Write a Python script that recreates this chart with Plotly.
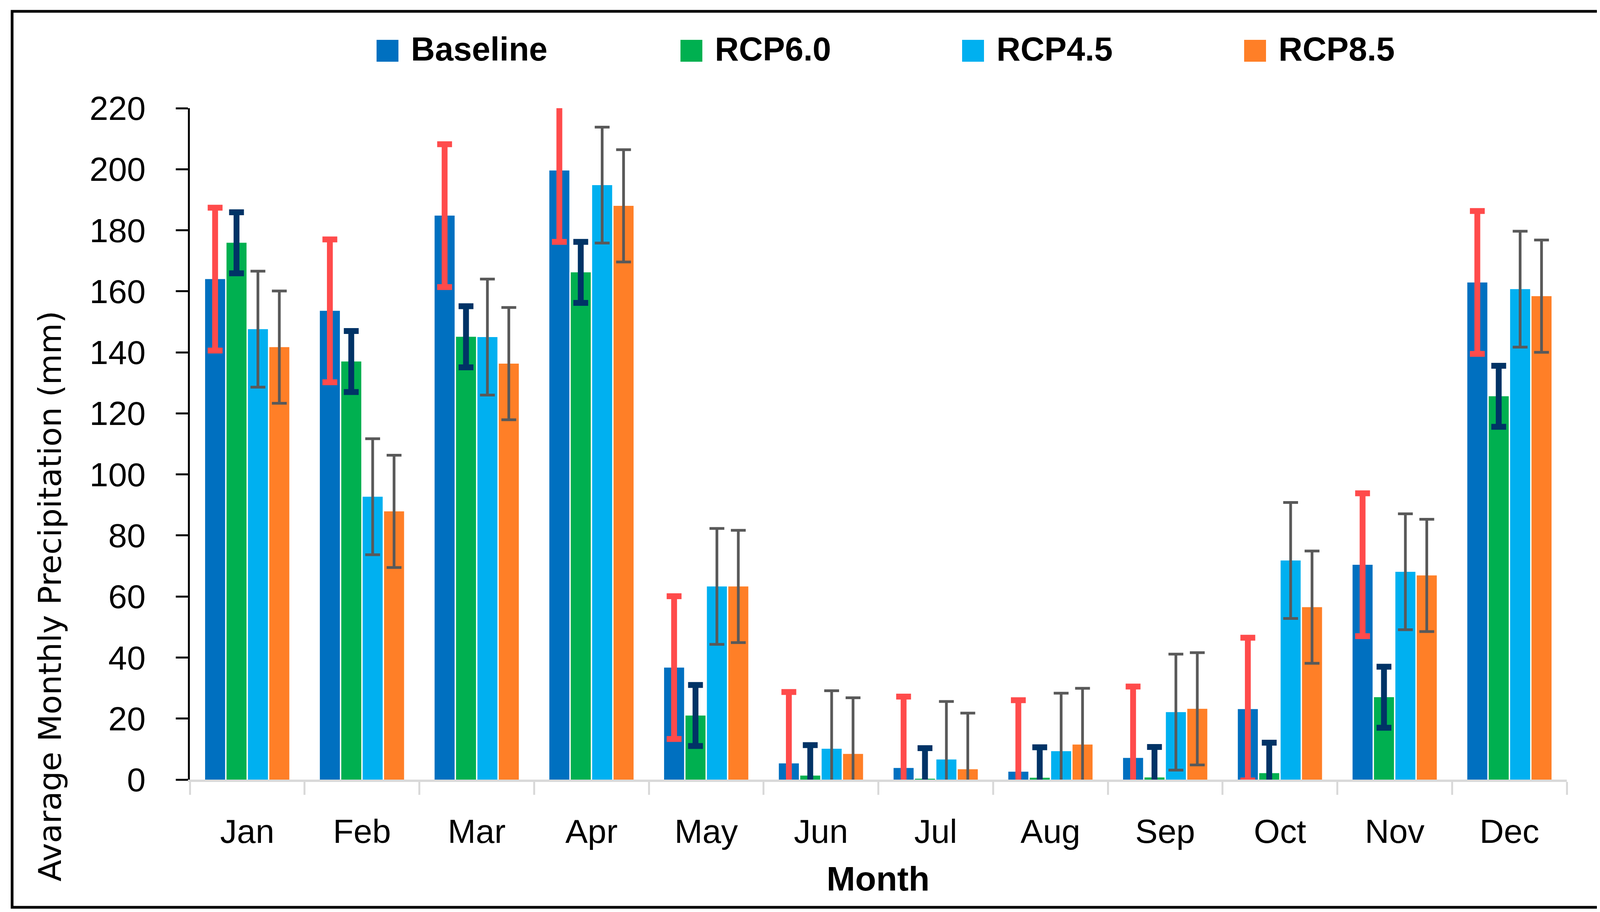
import plotly.graph_objects as go

# ---------------- data ----------------
months = ["Jan", "Feb", "Mar", "Apr", "May", "Jun",
          "Jul", "Aug", "Sep", "Oct", "Nov", "Dec"]
series_names = ["Baseline", "RCP6.0", "RCP4.5", "RCP8.5"]

baseline = [164.0, 153.6, 184.8, 199.6, 36.7, 5.3, 3.8, 2.6, 7.1, 23.1, 70.4, 162.9]
rcp60    = [175.9, 137.0, 145.1, 166.2, 21.0, 1.3, 0.3, 0.6, 0.7, 2.1, 27.0, 125.6]
rcp45    = [147.6, 92.7, 145.0, 194.8, 63.3, 10.1, 6.6, 9.3, 22.1, 71.8, 68.1, 160.7]
rcp85    = [141.7, 87.9, 136.3, 188.0, 63.3, 8.4, 3.4, 11.5, 23.2, 56.5, 66.9, 158.4]

baseline_err = [23.4, 23.4, 23.4, 23.4, 23.4, 23.4, 23.4, 23.4, 23.4, 23.4, 23.4, 23.4]
rcp60_err    = [10.0, 10.0, 10.0, 10.0, 10.0, 10.0, 10.0, 10.0, 10.0, 10.0, 10.0, 10.0]
rcp45_err    = [19.0, 19.0, 19.0, 19.0, 19.0, 19.0, 19.0, 19.0, 19.0, 19.0, 19.0, 19.0]
rcp85_err    = [18.4, 18.4, 18.4, 18.4, 18.4, 18.4, 18.4, 18.4, 18.4, 18.4, 18.4, 18.4]

y_ticks = [0, 20, 40, 60, 80, 100, 120, 140, 160, 180, 200, 220]

# ---------------- style ----------------
W, H = 4186, 2335
L, R, T, B = 478, 183, 269, 347
PW, PH = W - L - R, H - T - B
PLOT_BOTTOM = H - B

def px_x(px):
    return (px - L) / PW

def px_y(py):
    return (PLOT_BOTTOM - py) / PH

bar_colors = ["#0070C0", "#00B050", "#00B0F0", "#FF7F27"]
err_colors = ["#FF4B4B", "#003366", "#595959", "#595959"]
err_thick = [15, 15, 7, 7]

values = [baseline, rcp60, rcp45, rcp85]
errors = [baseline_err, rcp60_err, rcp45_err, rcp85_err]

TICK_FONT = "Liberation Sans, Arial, sans-serif"

fig = go.Figure()
for name, vals, errs, col, ecol, eth in zip(series_names, values, errors,
                                             bar_colors, err_colors, err_thick):
    fig.add_trace(go.Bar(
        name=name, x=months, y=vals,
        marker=dict(color=col, line=dict(width=0)),
        error_y=dict(type="data", array=errs, symmetric=True,
                     color=ecol, thickness=eth, width=19),
        showlegend=False,
    ))

shapes = []
annotations = []

# outer frame
shapes.append(dict(type="rect", xref="paper", yref="paper",
                   x0=px_x(23), x1=px_x(4161), y0=px_y(2315), y1=px_y(21),
                   line=dict(color="black", width=7), fillcolor="rgba(0,0,0,0)",
                   layer="above"))

# custom legend (large square swatches)
legend_sq_x = [956, 1734, 2455, 3177]
sq_size = 56
sq_top = 94
for name, col, x0 in zip(series_names, bar_colors, legend_sq_x):
    shapes.append(dict(type="rect", xref="paper", yref="paper",
                       x0=px_x(x0), x1=px_x(x0 + sq_size),
                       y0=px_y(sq_top + sq_size), y1=px_y(sq_top),
                       line=dict(width=0), fillcolor=col))
    annotations.append(dict(text="<b>%s</b>" % name, xref="paper", yref="paper",
                            x=px_x(x0 + sq_size + 30), y=px_y(118),
                            xanchor="left", yanchor="middle", showarrow=False,
                            font=dict(family=TICK_FONT, size=85, color="black")))

# axis titles
annotations.append(dict(text="Avarage Monthly Precipitation (mm)", xref="paper", yref="paper",
                        x=px_x(120), y=px_y(1519), xanchor="center", yanchor="middle",
                        textangle=-90, showarrow=False,
                        font=dict(family="DejaVu Sans, Verdana, sans-serif", size=81, color="black")))
annotations.append(dict(text="<b>Month</b>", xref="paper", yref="paper",
                        x=px_x(2240), y=px_y(2241), xanchor="center", yanchor="middle",
                        showarrow=False,
                        font=dict(family=TICK_FONT, size=88, color="black")))

fig.update_layout(
    width=W, height=H,
    margin=dict(l=L, r=R, t=T, b=B, pad=0),
    paper_bgcolor="white", plot_bgcolor="white",
    barmode="group", bargap=0.254, bargroupgap=0.064,
    shapes=shapes, annotations=annotations,
    showlegend=False,
    font=dict(family=TICK_FONT, color="black"),
)
fig.update_xaxes(
    range=[-0.5, 11.5], showgrid=False, zeroline=False,
    showline=True, linecolor="#D9D9D9", linewidth=6,
    ticks="outside", tickson="boundaries", ticklen=33, tickwidth=5, tickcolor="#D9D9D9",
    tickfont=dict(family=TICK_FONT, size=86, color="black"),
    ticklabelstandoff=53,
)
fig.update_yaxes(
    range=[0, 220], tickvals=y_ticks, showgrid=False, zeroline=False,
    showline=True, linecolor="black", linewidth=5,
    ticks="outside", ticklen=31, tickwidth=5, tickcolor="black",
    tickfont=dict(family=TICK_FONT, size=86, color="black"),
    ticklabelstandoff=60,
)

fig.write_html("out.html")
